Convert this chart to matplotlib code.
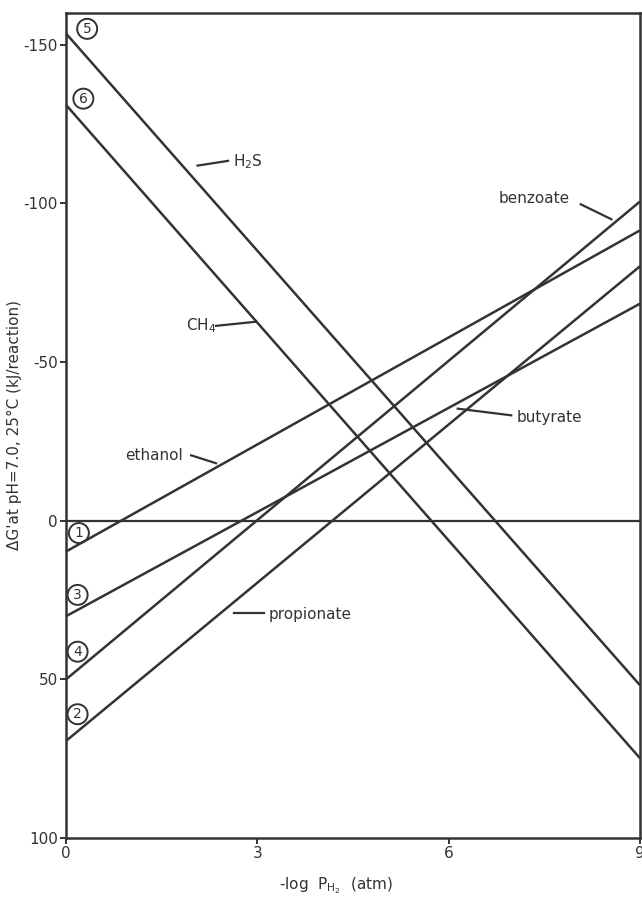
import matplotlib
matplotlib.use("Agg")
import matplotlib.pyplot as plt
from matplotlib.patches import Ellipse

# ---- data ----
x_ends = [0, 9]
reactions = ["H2S", "CH4", "ethanol", "butyrate", "benzoate", "propionate"]
circle_ids = ["5", "6", "1", "3", "4", "2"]
dg_at_0 = [-153.5, -131.0, 9.7, 30.1, 50.0, 69.4]
dg_at_9 = [51.9, 74.9, -91.5, -68.4, -100.6, -80.2]

label_texts = ["H$_2$S", "CH$_4$", "ethanol", "butyrate", "benzoate", "propionate"]
label_pos = [(2.62, -113.2), (1.88, -61.4), (0.92, -20.6), (7.07, -32.5), (6.78, -101.6), (3.18, 29.6)]
leader_from = [(2.06, -111.9), (2.35, -61.4), (1.96, -20.6), (6.14, -35.3), (8.07, -99.7), (2.63, 29.0)]
leader_to = [(2.54, -113.4), (2.98, -62.7), (2.35, -18.1), (6.98, -33.2), (8.55, -95.0), (3.10, 29.0)]
circle_pos = [(0.33, -155), (0.27, -133), (0.20, 3.9), (0.18, 23.4), (0.18, 41.3), (0.18, 61.0)]

xticks = [0, 3, 6, 9]
yticks = [-150, -100, -50, 0, 50, 100]

ink = "#333333"
plt.rcParams["font.family"] = ["DejaVu Sans"]

fig = plt.figure(figsize=(6.42, 9.15), dpi=100)
ax = fig.add_axes([0.103, 0.0842, 0.894, 0.9016])

ax.set_xlim(0, 9)
ax.set_ylim(100, -160)

for y0, y9 in zip(dg_at_0, dg_at_9):
    ax.plot(x_ends, [y0, y9], color=ink, lw=1.8, solid_capstyle="butt", clip_on=False)

ax.axhline(0, color=ink, lw=1.6)

for t, p in zip(label_texts, label_pos):
    ax.text(p[0], p[1], t, fontsize=11, color=ink, ha="left", va="center")
for a, b in zip(leader_from, leader_to):
    ax.plot([a[0], b[0]], [a[1], b[1]], color=ink, lw=1.6)

# circled numbers: make circles round in pixel space
px_per_x = ax.get_window_extent().width / 9
px_per_y = ax.get_window_extent().height / 260
d_px = 20
for cid, (cx, cy) in zip(circle_ids, circle_pos):
    e = Ellipse((cx, cy), d_px / px_per_x, d_px / px_per_y, fill=False,
                edgecolor=ink, lw=1.4)
    ax.add_patch(e)
    ax.text(cx, cy, cid, fontsize=10, color=ink, ha="center", va="center")

ax.set_xticks(xticks)
ax.set_xticklabels([str(v) for v in xticks])
ax.set_yticks(yticks)
ax.set_yticklabels([("-" + str(-v)) if v < 0 else str(v) for v in yticks])
ax.tick_params(axis="both", direction="out", length=4, width=1.4, colors=ink,
               labelsize=11, pad=2)

for s in ax.spines.values():
    s.set_color(ink)
    s.set_linewidth(1.8)

ax.set_xlabel(r"-log  P$_{\mathrm{H_2}}$  (atm)", fontsize=11, color=ink)
ax.xaxis.set_label_coords(0.47, -0.045)
ax.set_ylabel("ΔG'at pH=7.0, 25°C (kJ/reaction)", fontsize=11, color=ink)
ax.yaxis.set_label_coords(-0.077, 0.5)

fig.savefig("out.png", dpi=100)
